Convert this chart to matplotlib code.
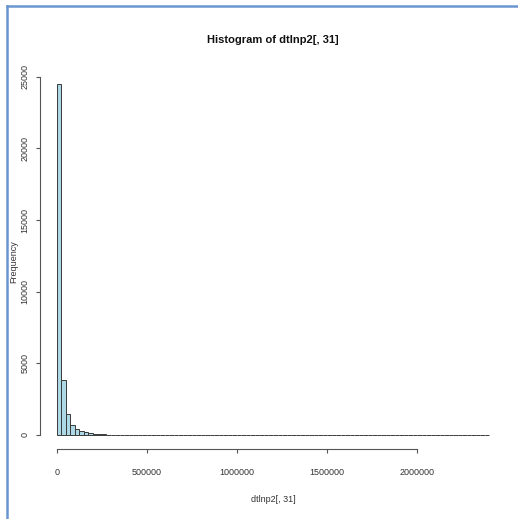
#!/usr/bin/python3
# -*- coding: utf-8 -*-
"""
Histogram of dtlnp2[, 31] redrawn in the style of R's base hist()
"""

import numpy as np
import matplotlib
matplotlib.use('Agg')
import matplotlib.pyplot as plt
from matplotlib.lines import Line2D

plt.rcParams['font.family'] = ['Liberation Sans Narrow', 'Liberation Sans', 'DejaVu Sans']

# bins of width 25000 starting at 0
bin_width = 25000
bin_start = 0
counts = [
    24500, 3830, 1455, 664, 433, 293, 196, 126, 84, 56,
    40, 32, 26, 21, 17, 14, 12, 10, 8, 7,
    6, 5, 5, 4, 4, 3, 3, 2, 0, 2,
    2, 0, 0, 0, 1, 1, 0, 0, 0, 0,
    0, 0, 0, 0, 0, 0, 0, 1, 0, 0,
    0, 0, 0, 0, 0, 0, 0, 0, 0, 0,
    0, 0, 0, 0, 0, 0, 0, 0, 0, 0,
    0, 0, 1, 0, 0, 0, 0, 0, 0, 0,
    0, 0, 0, 0, 0, 0, 0, 0, 0, 0,
    0, 0, 0, 0, 0, 0,
]
x_ticks = [0, 500000, 1000000, 1500000, 2000000]
y_ticks = [0, 5000, 10000, 15000, 20000, 25000]
title = 'Histogram of dtlnp2[, 31]'
x_label = 'dtlnp2[, 31]'
y_label = 'Frequency'

counts = np.array(counts)
edges = bin_start + bin_width * np.arange(len(counts) + 1)

W, H = 518, 519
fig = plt.figure(figsize=(W / 100, H / 100), dpi=100)
fig.patch.set_facecolor('white')

# plot region in pixels (R style)
left, right, top, bottom = 39.5, 506.5, 70, 449
ax = fig.add_axes([left / W, 1 - bottom / H, (right - left) / W, (bottom - top) / H])

ax.bar(edges[:-1], counts, width=bin_width, align='edge',
       color='#add8e6', edgecolor='#3a3a3a', linewidth=0.7)

# R pads the data range by 4% on each side
xr = edges[-1] - edges[0]
ax.set_xlim(edges[0] - 0.04 * xr, edges[-1] + 0.04 * xr)
ymax = counts.max()
ax.set_ylim(-0.04 * ymax, 1.04 * ymax)

for side in ['top', 'right']:
    ax.spines[side].set_visible(False)
ax.spines['left'].set_bounds(y_ticks[0], y_ticks[-1])
ax.spines['bottom'].set_bounds(x_ticks[0], x_ticks[-1])
for side in ['left', 'bottom']:
    ax.spines[side].set_color('#555555')
    ax.spines[side].set_linewidth(0.8)

ax.set_xticks(x_ticks)
ax.set_xticklabels([str(v) for v in x_ticks])
ax.set_yticks(y_ticks)
ax.set_yticklabels([str(v) for v in y_ticks], rotation=90, va='center')
ax.tick_params(axis='both', direction='out', length=3, width=0.8,
               color='#555555', labelsize=6.5, labelcolor='#333333')
ax.tick_params(axis='x', pad=11)
ax.tick_params(axis='y', pad=4)

fig.text((left + right) / 2 / W, 1 - 40 / H, title, ha='center', va='center',
         fontsize=8, fontweight='bold', color='#111111')
fig.text((left + right) / 2 / W, 1 - 500 / H, x_label, ha='center', va='center',
         fontsize=6.5, color='#333333')
fig.text(14 / W, 1 - 262 / H, y_label, ha='center', va='center',
         rotation=90, fontsize=6.5, color='#333333')

# blue frame of the screenshot on the left and top
fig.add_artist(Line2D([7 / W, 7 / W], [0, 1 - 6 / H], color='#6a96d0', linewidth=1.8))
fig.add_artist(Line2D([7 / W, 1], [1 - 6 / H, 1 - 6 / H], color='#6a96d0', linewidth=1.8))

fig.savefig('out.png', dpi=100, facecolor='white')
plt.close(fig)
